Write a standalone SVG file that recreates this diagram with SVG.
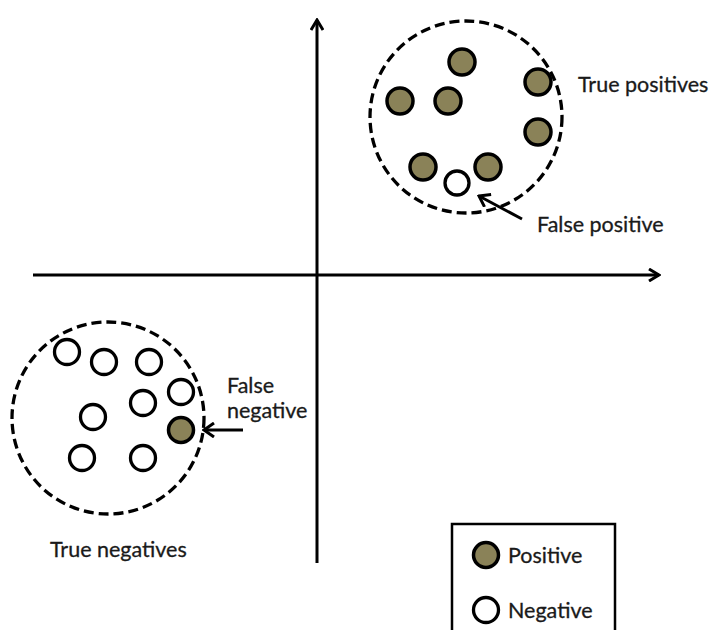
<svg xmlns="http://www.w3.org/2000/svg" width="711" height="630" viewBox="0 0 711 630">
  <defs>
    <marker id="axisHead" viewBox="0 0 14 14" refX="12" refY="7" markerWidth="14" markerHeight="14" markerUnits="userSpaceOnUse" orient="auto">
      <path d="M2,1 L12,7 L2,13" fill="none" stroke="#000" stroke-width="3" stroke-linejoin="miter"/>
    </marker>
    <marker id="pointer" viewBox="0 0 16 16" refX="14" refY="8" markerWidth="16" markerHeight="16" markerUnits="userSpaceOnUse" orient="auto">
      <path d="M4,1 L14,8 L4,15" fill="none" stroke="#000" stroke-width="3"/>
    </marker>
    <style>
      .axis { stroke: #000; stroke-width: 3; fill: none; }
      .group { fill: none; stroke: #000; stroke-width: 3.3; stroke-dasharray: 10 5; }
      .pos { fill: #8a8258; stroke: #000; stroke-width: 3.5; }
      .neg { fill: #fff; stroke: #000; stroke-width: 3.3; }
      .ptr { stroke: #000; stroke-width: 3; fill: none; }
      .label { font-family: Lato, "Open Sans", "Liberation Sans", sans-serif; font-size: 21.5px; fill: #1a1a1a; stroke: #1a1a1a; stroke-width: 0.3; }
      .legend-box { fill: #fff; stroke: #000; stroke-width: 2.5; }
    </style>
  </defs>
  <rect width="711" height="630" fill="#fff"/>

  <!-- axes and pointer arrows -->
  <g id="connectors">
    <line class="axis" x1="317" y1="563" x2="317" y2="20" marker-end="url(#axisHead)"/>
    <line class="axis" x1="33" y1="275" x2="659" y2="275" marker-end="url(#axisHead)"/>
    <line class="ptr" x1="522" y1="219" x2="479" y2="196" marker-end="url(#pointer)"/>
    <line class="ptr" x1="243" y1="430" x2="204" y2="430" marker-end="url(#pointer)"/>
  </g>

  <!-- upper-right cluster -->
  <g id="cluster-positive">
    <circle class="group" cx="466" cy="117" r="96"/>
    <circle class="pos" cx="462" cy="62" r="13"/>
    <circle class="pos" cx="538" cy="82" r="13"/>
    <circle class="pos" cx="400" cy="101" r="13"/>
    <circle class="pos" cx="448" cy="101" r="13"/>
    <circle class="pos" cx="538" cy="132" r="13"/>
    <circle class="pos" cx="423" cy="167" r="13"/>
    <circle class="pos" cx="488" cy="167" r="13"/>
    <circle class="neg" cx="457" cy="183" r="12"/>
  </g>

  <!-- lower-left cluster -->
  <g id="cluster-negative">
    <circle class="group" cx="108" cy="418" r="96"/>
    <circle class="neg" cx="67" cy="352" r="12.5"/>
    <circle class="neg" cx="104" cy="362" r="12.5"/>
    <circle class="neg" cx="149" cy="362" r="12.5"/>
    <circle class="neg" cx="181" cy="392" r="12.5"/>
    <circle class="neg" cx="143" cy="403" r="12.5"/>
    <circle class="neg" cx="93" cy="417" r="12.5"/>
    <circle class="pos" cx="181" cy="430" r="12.5"/>
    <circle class="neg" cx="82" cy="458" r="12.5"/>
    <circle class="neg" cx="143" cy="458" r="12.5"/>
  </g>

  <g id="label-true-positives"><text class="label" x="578" y="92">True positives</text></g>
  <g id="label-false-positive"><text class="label" x="537" y="232">False positive</text></g>
  <g id="label-false-negative">
    <text class="label" x="227" y="393">False</text>
    <text class="label" x="227" y="418">negative</text>
  </g>
  <g id="label-true-negatives"><text class="label" x="50" y="557">True negatives</text></g>

  <!-- legend -->
  <g id="legend">
    <rect class="legend-box" x="452" y="524" width="163" height="120"/>
    <circle class="pos" cx="486" cy="555" r="12.5"/>
    <text class="label" x="508" y="563">Positive</text>
    <circle class="neg" cx="486" cy="610" r="12.5"/>
    <text class="label" x="508" y="618">Negative</text>
  </g>
</svg>
